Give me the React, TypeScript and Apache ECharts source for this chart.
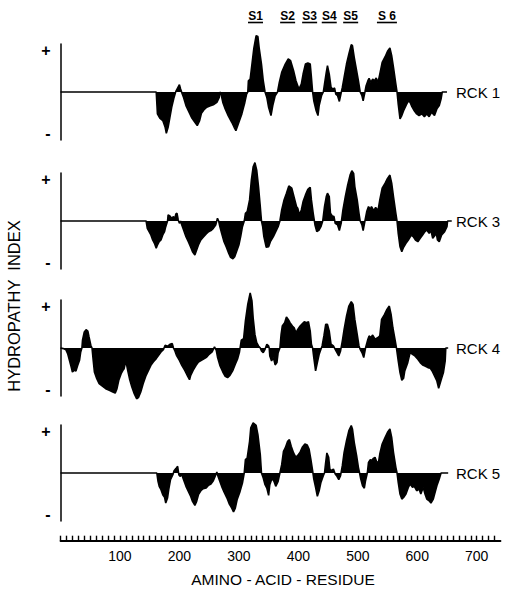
import React, { useEffect, useRef } from 'react';
import * as echarts from 'echarts';

type Pt = [number, number];

const panelNames = ['RCK 1', 'RCK 3', 'RCK 4', 'RCK 5'];

const rck1: Pt[] = [[0,0],[161,0],[163,-1.05],[167,-1.25],[172,-1.37],[176,-1.69],[178,-1.98],[181,-1.69],[184,-1.21],[187,-0.73],[191,-0.26],[194,0.03],[196,0.14],[200,0.35],[202,0.14],[204,-0.03],[207,-0.26],[211,-0.65],[215,-0.89],[221,-1.25],[226,-1.45],[230,-1.61],[234,-1.37],[237,-1.02],[241,-0.86],[246,-0.73],[251,-0.67],[257,-0.61],[263,-0.5],[267,-0.26],[268,0],[270,-0.1],[273,-0.5],[277,-0.81],[282,-1.13],[288,-1.45],[292,-1.69],[295,-1.85],[299,-1.53],[305,-1.05],[310,-0.5],[313,-0.1],[315,0],[316,0.54],[319,0.62],[322,1.34],[325,2.06],[329,2.7],[332,2.66],[334,2.14],[338,1.34],[341,0.54],[344,0],[347,-0.26],[350,-0.73],[354,-1.13],[357,-0.65],[361,-0.18],[365,0],[368,0.46],[372,0.94],[378,1.34],[383,1.58],[387,1.5],[392,1.02],[396,0.54],[399,0.3],[401,0.14],[405,0.38],[408,0.86],[412,1.34],[416,1.39],[420,1.34],[422,0.7],[424,0],[426,-0.42],[430,-0.9],[433,-1.13],[435,-0.65],[439,-0.18],[442,0],[444,0.38],[447,0.94],[449,1.26],[452,0.86],[455,0.22],[458,0.14],[461,0.19],[463,-0.1],[466,-0.18],[469,-0.45],[471,-0.18],[474,0.22],[477,0.7],[481,1.34],[485,1.82],[489,2.27],[491,2.22],[494,1.66],[498,1.02],[501,0.54],[504,0],[507,-0.18],[509,-0.42],[512,0],[514,0.3],[517,0.54],[519,0.65],[522,0.46],[525,0.62],[528,0.54],[531,0.67],[534,0.46],[537,0.86],[541,1.42],[546,1.69],[550,1.95],[554,2.11],[557,1.74],[560,1.18],[564,0.38],[566,0],[568,-0.58],[571,-1.29],[574,-1.13],[577,-0.9],[581,-0.65],[585,-0.42],[588,-0.5],[591,-0.7],[595,-0.9],[599,-1.05],[603,-1.13],[608,-1.05],[612,-1.18],[616,-1.05],[620,-1.18],[624,-0.97],[629,-1.13],[633,-0.81],[637,-0.65],[640,-0.34],[642,0],[650,0]];

const rck3: Pt[] = [[0,0],[144,0],[146,-0.35],[149,-0.51],[152,-0.67],[155,-0.91],[158,-1.07],[161,-1.31],[163,-1.15],[166,-0.99],[169,-0.91],[172,-0.67],[175,-0.51],[177,-0.27],[180,0],[181,0.29],[184,0.24],[187,0.13],[190,0.21],[192,0.08],[194,0.34],[196,0.37],[198,0.05],[200,-0.11],[202,0],[204,-0.19],[207,-0.43],[211,-0.75],[215,-0.99],[219,-1.26],[222,-1.47],[226,-1.63],[229,-1.39],[232,-1.15],[236,-0.91],[240,-0.78],[245,-0.62],[249,-0.51],[253,-0.46],[257,-0.35],[261,-0.19],[264,0.13],[266,0],[268,-0.27],[271,-0.59],[275,-0.99],[279,-1.26],[283,-1.55],[286,-1.74],[290,-1.81],[293,-1.71],[296,-1.47],[300,-1.15],[303,-0.75],[306,-0.27],[309,0],[311,0.37],[314,0.45],[318,1.01],[321,1.96],[324,2.6],[327,2.8],[330,2.44],[333,1.65],[336,0.69],[338,0],[340,-0.27],[342,-0.75],[346,-1.26],[350,-1.23],[353,-0.99],[358,-0.75],[362,-0.51],[366,-0.27],[369,0],[372,0.53],[376,1.01],[380,1.33],[384,1.68],[389,1.57],[393,1.13],[397,0.69],[399,0.61],[402,0.29],[405,0.53],[408,0.93],[412,1.25],[416,1.52],[418,1.57],[420,1.61],[422,1.01],[425,0.37],[428,-0.19],[431,-0.51],[435,-0.43],[438,-0.27],[441,0],[444,0.69],[447,1.17],[449,1.33],[452,1.17],[454,0.37],[457,0.24],[460,0.21],[462,-0.11],[466,-0.19],[469,-0.46],[472,-0.11],[475,0.53],[479,1.17],[483,1.73],[487,2.2],[490,2.41],[493,2.28],[495,1.65],[499,1.01],[502,0.37],[504,0],[507,-0.19],[509,-0.46],[512,0],[515,0.45],[518,0.69],[521,0.56],[523,0.69],[527,0.5],[530,0.65],[534,0.5],[537,1.01],[541,1.57],[546,1.81],[550,2.04],[554,2.2],[557,1.81],[560,1.17],[564,0.37],[566,0],[568,-0.59],[571,-1.23],[574,-1.47],[577,-1.26],[581,-1.07],[585,-0.91],[590,-0.67],[594,-0.78],[597,-0.91],[601,-0.99],[605,-0.83],[609,-0.67],[613,-0.51],[616,-0.43],[620,-0.59],[623,-0.46],[626,-0.83],[629,-0.72],[632,-0.59],[634,-0.91],[637,-0.99],[641,-0.67],[646,-0.51],[650,-0.27],[651,0],[658,0]];

const rck4: Pt[] = [[0,0],[5,-0.03],[9,-0.08],[12,-0.27],[15,-0.59],[18,-0.91],[20,-1.15],[23,-1.07],[26,-1.1],[29,-0.83],[32,-0.59],[34,-0.19],[36,0],[37,0.37],[40,0.77],[43,0.88],[46,0.81],[48,0.53],[51,0.13],[53,0],[55,-0.59],[57,-1.15],[61,-1.47],[65,-1.71],[71,-1.84],[76,-1.95],[82,-2.03],[88,-2.11],[92,-2.16],[95,-1.95],[98,-1.55],[102,-1.23],[105,-1.07],[107,-0.99],[110,-0.62],[113,-1.07],[116,-1.47],[120,-1.87],[124,-2.19],[128,-2.43],[131,-2.38],[135,-2.11],[139,-1.71],[144,-1.31],[148,-1.07],[152,-0.83],[156,-0.67],[161,-0.51],[165,-0.35],[169,-0.19],[173,-0.08],[176,0.13],[180,0.08],[184,0.18],[188,0.21],[190,0],[192,-0.11],[195,-0.35],[200,-0.59],[204,-0.83],[209,-1.07],[214,-1.36],[217,-1.52],[219,-1.31],[223,-1.07],[228,-0.83],[232,-0.67],[237,-0.59],[242,-0.51],[246,-0.43],[250,-0.3],[255,-0.19],[259,0.05],[262,-0.11],[264,-0.43],[268,-0.83],[273,-1.15],[277,-1.36],[281,-1.42],[285,-1.31],[290,-1.07],[294,-0.78],[298,-0.51],[301,-0.19],[302,0],[304,0.37],[308,0.45],[311,1.3],[315,2.1],[319,2.64],[322,2.25],[324,1.45],[327,0.65],[330,0.26],[333,0.1],[336,0],[338,-0.14],[341,-0.22],[344,-0.06],[347,0.18],[350,0.1],[351,0],[352,-0.38],[355,-0.62],[358,-0.46],[361,-0.81],[364,-0.7],[366,-0.22],[369,0],[371,0.65],[373,1.05],[377,1.21],[380,1.49],[383,1.37],[386,1.21],[390,1.05],[393,0.97],[396,0.73],[399,0.89],[403,1.05],[407,1.17],[410,1.26],[414,1.21],[417,1.26],[420,0.81],[422,0.18],[424,0],[426,-0.46],[429,-1.1],[432,-0.7],[435,-0.3],[438,-0.06],[440,0.1],[443,0.58],[446,1.13],[449,1.13],[452,0.81],[455,0.18],[459,0.1],[462,-0.06],[465,-0.22],[468,-0.38],[471,-0.14],[474,0.34],[477,0.89],[481,1.53],[485,2.01],[489,2.22],[492,2.09],[495,1.37],[499,0.65],[502,0.1],[504,-0.06],[507,-0.22],[510,-0.46],[513,0],[517,0.42],[519,0.58],[522,0.5],[525,0.62],[529,0.42],[534,0.5],[537,0.58],[540,1.37],[545,1.61],[549,1.85],[553,2.01],[556,1.61],[559,0.97],[563,0.34],[565,0],[568,-0.62],[571,-1.18],[574,-1.55],[577,-1.45],[579,-1.1],[584,-0.7],[588,-0.22],[592,-0.3],[596,-0.38],[601,-0.54],[605,-0.7],[609,-0.81],[613,-0.86],[618,-0.94],[622,-0.97],[625,-1.1],[629,-1.34],[633,-1.58],[636,-1.93],[638,-1.74],[641,-1.45],[644,-1.18],[647,-0.62],[648,0],[652,0]];

const rck5: Pt[] = [[0,0],[162,0],[164,-0.4],[166,-0.64],[169,-0.8],[172,-1.04],[175,-1.17],[177,-1.44],[180,-1.2],[182,-0.8],[185,-0.32],[189,-0.08],[191,0.11],[194,0.21],[197,0.32],[199,-0.08],[201,-0.16],[204,-0.08],[207,-0.32],[211,-0.64],[215,-0.88],[219,-1.12],[222,-1.36],[226,-1.55],[229,-1.36],[232,-1.04],[236,-0.85],[240,-0.75],[245,-0.72],[249,-0.59],[253,-0.53],[257,-0.37],[260,-0.16],[263,0.05],[264,-0.08],[267,-0.32],[271,-0.64],[275,-0.91],[280,-1.2],[284,-1.49],[288,-1.68],[291,-1.87],[294,-1.68],[297,-1.28],[302,-0.88],[306,-0.48],[309,0],[311,0.64],[314,0.72],[318,1.52],[320,2.16],[324,2.4],[329,2.28],[332,1.84],[336,0.88],[338,0],[341,-0.24],[344,-0.56],[347,-0.72],[350,-1.07],[352,-0.56],[356,-0.24],[359,-0.4],[362,-0.64],[366,-0.4],[369,0],[372,0.4],[375,1.04],[378,1.2],[382,1.52],[385,1.6],[388,1.28],[392,0.96],[395,0.8],[398,0.8],[403,1.0],[407,1.25],[411,1.39],[415,1.34],[418,1.15],[421,0.67],[424,0.11],[426,-0.29],[429,-0.69],[432,-1.12],[435,-0.85],[438,-0.45],[442,-0.13],[444,0],[446,0.51],[448,0.96],[451,0.75],[453,0.19],[456,0.11],[459,0.19],[462,-0.05],[465,-0.16],[468,-0.32],[471,-0.13],[474,0.35],[477,0.99],[481,1.55],[485,2.03],[489,2.27],[491,2.11],[494,1.47],[498,0.83],[501,0.27],[503,0],[505,-0.29],[508,-0.61],[511,-0.73],[513,-0.37],[516,0],[518,0.51],[521,0.64],[523,0.59],[526,0.7],[529,0.75],[532,0.51],[535,0.54],[537,0.91],[541,1.39],[546,1.71],[550,1.95],[554,2.11],[557,1.71],[560,0.99],[564,0.27],[566,0],[568,-0.45],[571,-1.01],[574,-1.25],[577,-1.17],[581,-1.01],[585,-0.69],[588,-0.53],[592,-0.69],[595,-0.64],[599,-0.85],[603,-0.77],[606,-1.01],[610,-0.69],[613,-1.01],[616,-1.25],[620,-1.33],[623,-1.44],[627,-1.25],[630,-0.93],[633,-0.61],[637,-0.29],[640,0],[652,0]];

const profiles: Pt[][] = [rck1, rck3, rck4, rck5];

const segmentLabels = ['S1', 'S2', 'S3', 'S4', 'S5', 'S 6'];
const segmentCenters = [328, 382, 419, 452, 488, 549];

const residueLabels = [100, 200, 300, 400, 500, 600, 700];
const residueTicks = [0,10,20,30,40,50,60,70,80,90,100,110,120,130,140,150,160,170,180,190,200,210,220,230,240,250,260,270,280,290,300,310,320,330,340,350,360,370,380,390,400,410,420,430,440,450,460,470,480,490,500,510,520,530,540,550,560,570,580,590,600,610,620,630,640,650,660,670,680,690,700,710,720,730];

const yMarks = [-2, 2];

const FONT = '"Liberation Sans", Arial, Helvetica, sans-serif';

export default function App() {
  const ref = useRef<HTMLDivElement>(null);
  useEffect(() => {
    const chart = echarts.init(ref.current!, null, { renderer: 'svg' });
    const tops = [44, 173, 300, 425];
    const left = 60.5;
    const width = 440;
    const grids: any[] = tops.map((t) => ({ left, top: t, width, height: 96 }));
    grids.push({ left, top: 500, width, height: 40.7 });

    const xAxes: any[] = tops.map((_, i) => ({
      type: 'value', gridIndex: i, min: 0, max: 740, show: false,
    }));
    xAxes.push({
      type: 'value', gridIndex: 4, min: 0, max: 740, position: 'bottom',
      axisLine: { show: true, lineStyle: { color: '#000', width: 1.8 } },
      axisTick: { show: true, inside: true, length: 5, customValues: residueTicks, lineStyle: { color: '#000', width: 1.4 } },
      axisLabel: { customValues: residueLabels, color: '#000', fontSize: 14, fontFamily: FONT, margin: 8 },
      splitLine: { show: false },
    });

    const yAxes: any[] = tops.map((_, i) => ({
      type: 'value', gridIndex: i, min: -2.3, max: 2.3,
      axisLine: { show: true, lineStyle: { color: '#000', width: 1.5 } },
      axisTick: { show: false },
      splitLine: { show: false },
      axisLabel: {
        customValues: yMarks,
        formatter: (v: number) => (v > 0 ? '+' : '-'),
        color: '#000', fontSize: 16, fontWeight: 'bold', fontFamily: FONT, margin: 10,
      },
    }));
    yAxes.push({ type: 'value', gridIndex: 4, show: false, min: 0, max: 1 });

    const series: any[] = profiles.map((d, i) => ({
      type: 'line', xAxisIndex: i, yAxisIndex: i, data: d,
      showSymbol: false, symbol: 'none', clip: false, silent: true,
      lineStyle: { color: '#000', width: 1.6 },
      areaStyle: { color: '#000', opacity: 1 },
    }));

    chart.setOption({
      animation: false,
      backgroundColor: '#fff',
      grid: grids,
      xAxis: xAxes,
      yAxis: yAxes,
      series,
    });

    const graphics: any[] = [];
    panelNames.forEach((name, i) => {
      const y = chart.convertToPixel({ yAxisIndex: i } as any, 0) as number;
      graphics.push({
        type: 'text', x: 456, y,
        style: { text: name, fill: '#000', font: `15px ${FONT}`, textAlign: 'left', textVerticalAlign: 'middle' },
      });
    });
    segmentLabels.forEach((lab, i) => {
      const x = chart.convertToPixel({ xAxisIndex: 0 } as any, segmentCenters[i]) as number;
      const half = lab.length > 2 ? 10 : 7.5;
      graphics.push({
        type: 'text', x, y: 16,
        style: { text: lab, fill: '#000', font: `bold 12px ${FONT}`, textAlign: 'center', textVerticalAlign: 'middle' },
      });
      graphics.push({
        type: 'line', shape: { x1: x - half, y1: 22.5, x2: x + half, y2: 22.5 },
        style: { stroke: '#000', lineWidth: 1.6 },
      });
    });
    graphics.push({
      type: 'text', x: 14, y: 306, rotation: Math.PI / 2,
      style: { text: 'HYDROPATHY  INDEX', fill: '#000', font: `16.5px ${FONT}`, textAlign: 'center', textVerticalAlign: 'middle' },
    });
    graphics.push({
      type: 'text', x: 283, y: 579,
      style: { text: 'AMINO - ACID - RESIDUE', fill: '#000', font: `15.5px ${FONT}`, textAlign: 'center', textVerticalAlign: 'middle' },
    });
    chart.setOption({ graphic: graphics });

    return () => chart.dispose();
  }, []);
  return <div ref={ref} style={{ position: 'fixed', left: 0, top: 0, width: 509, height: 592 }} />;
}
